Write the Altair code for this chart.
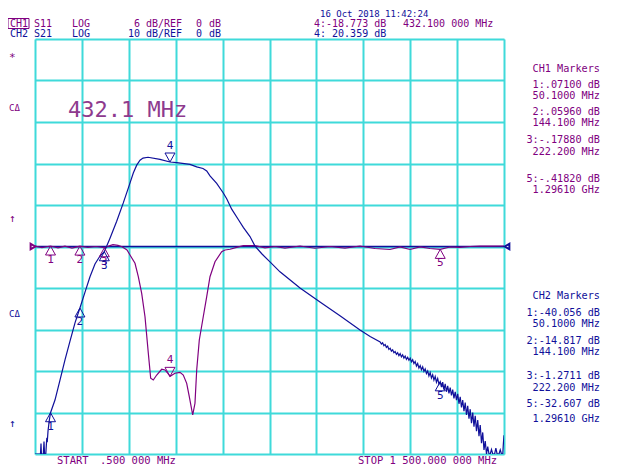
import altair as alt
import pandas as pd

# ---------------- data ----------------
# CH2 : S21 (10 dB/div, ref 0 dB at centre)
freq_s21 = [0.5, 10, 18, 19.7, 21, 27, 29.3, 31, 35, 37.9, 40, 42.1, 46, 50.1, 64.4, 80.4,
            96.4, 112.4, 128.4, 144.1, 160.4, 176.3, 192.3, 208.3, 222.2, 240.3, 261.7, 282.8,
            302.0, 314.8, 325.7, 336.3, 345.8, 361.8, 400.2, 432.1, 453.5, 496.1, 517.5, 537.6,
            549.5, 560.0, 581.4, 602.5, 613.4, 629.4, 650.5, 666.5, 687.9, 703.9, 726.3, 751.8,
            783.8, 847.8, 911.7, 975.6, 1039.6, 1072,
            1104, 1108, 1112, 1116, 1120, 1124, 1128, 1132, 1136, 1140, 1144, 1148, 1152, 1156,
            1160, 1164, 1168, 1172, 1176, 1180, 1184, 1188, 1192, 1196, 1200, 1204, 1208, 1212,
            1216, 1220, 1224, 1228, 1232, 1236, 1240, 1244, 1248, 1252, 1256, 1260, 1264, 1268,
            1272, 1276, 1280, 1284, 1288, 1292, 1296.1, 1300, 1304, 1308, 1312, 1316, 1320, 1324,
            1328, 1332, 1336, 1340, 1344, 1348, 1352, 1356, 1360, 1364, 1368, 1372, 1376, 1380,
            1384, 1388, 1392, 1396, 1400, 1404, 1408, 1412, 1416, 1420, 1424, 1428, 1432, 1436,
            1440, 1444, 1448, 1452, 1456, 1460, 1464, 1470, 1474, 1478, 1484, 1488, 1492, 1496,
            1498, 1500]
db_s21 = [-50, -50, -50, -47.5, -50, -50, -47, -50, -50, -46.5, -46.8, -44.5, -42.0, -40.06, -37.0, -32.2,
          -27.3, -22.8, -18.4, -14.82, -11.0, -7.3, -4.2, -2.3, -1.27, 2.0, 6.1, 10.5,
          14.8, 17.7, 19.6, 20.8, 21.3, 21.5, 21.0, 20.36, 20.2, 19.8, 19.2, 18.8,
          18.2, 17.0, 15.2, 12.9, 11.5, 9.0, 6.5, 4.6, 2.4, 0.1, -1.8, -3.7,
          -6.1, -10.0, -13.4, -16.7, -20.1, -21.7,
          -23.0, -23.5, -23.2, -23.9, -23.6, -24.3, -24.0, -24.8, -24.5, -25.2, -24.9, -25.6, -25.3, -26.0,
          -25.6, -26.3, -25.8, -26.6, -26.1, -26.9, -26.4, -27.2, -26.7, -27.4, -26.9, -27.8, -27.3, -28.2,
          -27.7, -28.8, -28.2, -29.3, -28.7, -29.7, -29.0, -30.1, -29.5, -30.6, -30.0, -31.2, -30.4, -31.7,
          -30.9, -32.2, -31.3, -32.7, -31.8, -33.2, -32.6, -33.9, -32.7, -34.5, -33.1, -35.0, -33.6, -35.4,
          -34.0, -35.9, -34.5, -36.6, -35.0, -37.0, -35.5, -37.9, -36.2, -38.8, -37.0, -39.7, -37.6, -40.6,
          -38.4, -41.5, -39.2, -42.6, -40.0, -43.4, -40.8, -44.5, -41.8, -45.7, -43.0, -47.4, -44.8, -49.0,
          -46.9, -50, -48.2, -50, -50, -48.9, -50, -50, -48.6, -50, -50, -49.0, -50, -50,
          -47.5, -45.5]

# CH1 : S11 (6 dB/div, ref 0 dB at centre)
freq_s11 = [0.5, 22.9, 50.1, 74.0, 96.4, 118.8, 144.1, 169.9, 195.5, 222.2, 240.3, 249.9, 265.9,
            278.7, 294.7, 304.2, 320.2, 330.8, 341.6, 352.2, 362.8, 370.4, 378.7, 389.6, 405.6,
            416.1, 426.7, 432.1, 448.1, 464.1, 474.6, 485.5, 493.8, 504.7, 512.0, 517.5, 525.8,
            536.7, 549.5, 560.0, 576.0, 597.4, 608.0, 624.0, 645.4, 666.5, 703.9, 735.9, 767.8,
            799.8, 847.8, 895.7, 943.6, 991.6, 1039.6, 1087.5, 1135.5, 1167.5, 1199.5, 1231.4,
            1263.4, 1296.1, 1327.3, 1359.3, 1391.3, 1423.3, 1455.3, 1500]
db_s11 = [0.07, -0.15, 0.071, -0.19, 0.04, -0.22, 0.0596, -0.14, 0.0, -0.1788, 0.12, 0.26, 0.17,
          -0.03, -0.51, -1.23, -2.43, -4.37, -6.77, -10.15, -15.44, -19.05, -19.30, -18.58, -17.75,
          -17.85, -18.43, -18.773, -18.33, -18.19, -18.58, -19.78, -21.71, -24.36, -22.67, -17.85, -13.52,
          -10.63, -7.26, -4.37, -2.20, -0.75, -0.51, -0.40, -0.12, 0.12, 0.14, -0.19, 0.0,
          -0.22, 0.07, -0.25, 0.0, -0.22, 0.07, -0.29, -0.43, -0.07, -0.43, -0.07,
          -0.29, -0.418, -0.07, -0.14, 0.0, 0.07, 0.04, 0.07]

marker_num = ["1", "2", "3", "4", "5"]
marker_freq = [50.1, 144.1, 222.2, 432.1, 1296.1]
ch1_marker_db = [0.071, 0.0596, -0.1788, -18.773, -0.4182]
ch2_marker_db = [-40.056, -14.817, -1.2711, 20.359, -32.607]

x_grid = [0.5, 150.45, 300.4, 450.35, 600.3, 750.25, 900.2, 1050.15, 1200.1, 1350.05, 1500.0]
ch2_grid = [-50, -40, -30, -20, -10, 0, 10, 20, 30, 40, 50]

ch1_readout = ["CH1 Markers", "1:.07100 dB", "50.1000 MHz", "2:.05960 dB", "144.100 MHz",
               "3:-.17880 dB", "222.200 MHz", "5:-.41820 dB", "1.29610 GHz"]
ch2_readout = ["CH2 Markers", "1:-40.056 dB", "50.1000 MHz", "2:-14.817 dB", "144.100 MHz",
               "3:-1.2711 dB", "222.200 MHz", "5:-32.607 dB", "1.29610 GHz"]

# ---------------- styling ----------------
CYAN = "#3fdada"
PURPLE = "#800080"
LIGHT_PURPLE = "#8e3a8e"
BLUE = "#10109a"
MONO = "DejaVu Sans Mono"
OX, OY = 35, 39  # page position of the plot area's top-left corner

s21 = pd.DataFrame({"f": freq_s21, "db": db_s21})
s11 = pd.DataFrame({"f": freq_s11, "db": db_s11})
mk = pd.DataFrame({"n": marker_num, "f": marker_freq, "ch1": ch1_marker_db, "ch2": ch2_marker_db})

X = alt.X("f:Q", scale=alt.Scale(domain=[0.5, 1500], nice=False, zero=False),
          axis=alt.Axis(values=x_grid, grid=True, labels=False, ticks=False, domain=False,
                        title=None, gridColor=CYAN, gridWidth=2, gridOpacity=1))
Y2_scale = alt.Scale(domain=[-50, 50], nice=False, zero=False)
Y1_scale = alt.Scale(domain=[-30, 30], nice=False, zero=False)

TRI_UP = "M0,0L-2,3.6L2,3.6Z"
TRI_DN = "M0,0L-2,-3.6L2,-3.6Z"


def label(text, px, py, color, size=10, align="left", weight="normal"):
    return alt.Chart(pd.DataFrame({"t": [text]})).mark_text(
        align=align, baseline="middle", font=MONO, fontSize=size, color=color, fontWeight=weight
    ).encode(x=alt.value(px - OX), y=alt.value(py - OY), text="t:N")


layers = []

# grid (from CH2 axes)
layers.append(
    alt.Chart(pd.DataFrame({"f": [0.5], "a": [0]})).mark_rule(color=BLUE, strokeWidth=1.3).encode(
        x=X,
        y=alt.Y("a:Q", scale=Y2_scale,
                axis=alt.Axis(values=ch2_grid, grid=True, labels=False, ticks=False, domain=False,
                              title=None, gridColor=CYAN, gridWidth=2, gridOpacity=1)),
    )
)
# blue reference line across the screen
layers.append(alt.Chart(pd.DataFrame({"a": [0]})).mark_rule(color=BLUE, strokeWidth=1.3).encode(
    y=alt.Y("a:Q", scale=Y2_scale, axis=None)))

# S11 trace (purple)
layers.append(alt.Chart(s11).mark_line(color=PURPLE, strokeWidth=1.2, clip=True).encode(
    x=X, y=alt.Y("db:Q", scale=Y1_scale, axis=None)))
# S21 trace (blue)
layers.append(alt.Chart(s21).mark_line(color=BLUE, strokeWidth=1.2, clip=True).encode(
    x=X, y=alt.Y("db:Q", scale=Y2_scale, axis=None)))

# markers
for field, scale, color in [("ch1", Y1_scale, PURPLE), ("ch2", Y2_scale, BLUE)]:
    base = alt.Chart(mk)
    up = base.transform_filter("datum.n != '4'")
    dn = base.transform_filter("datum.n == '4'")
    enc = dict(x=X, y=alt.Y(f"{field}:Q", scale=scale, axis=None))
    layers.append(up.mark_point(shape=TRI_UP, filled=False, size=25, color=color,
                                strokeWidth=1, opacity=1).encode(**enc))
    layers.append(up.mark_text(dy=14, font=MONO, fontSize=11, color=color).encode(text="n:N", **enc))
    layers.append(dn.mark_point(shape=TRI_DN, filled=False, size=25, color=color,
                                strokeWidth=1, opacity=1).encode(**enc))
    layers.append(dn.mark_text(dy=-16, font=MONO, fontSize=11, color=color).encode(text="n:N", **enc))

# reference-position arrows at both edges
layers.append(alt.Chart(pd.DataFrame({"f": [0.5], "v": [0]})).mark_point(
    shape="triangle-right", filled=False, size=30, color=PURPLE, xOffset=-2, opacity=1).encode(
    x=X, y=alt.Y("v:Q", scale=Y2_scale, axis=None)))
layers.append(alt.Chart(pd.DataFrame({"f": [1500], "v": [0]})).mark_point(
    shape="triangle-left", filled=False, size=30, color=BLUE, xOffset=3, opacity=1).encode(
    x=X, y=alt.Y("v:Q", scale=Y2_scale, axis=None)))

# header
ROW1, ROW2 = 23.5, 33.5
layers.append(alt.Chart(pd.DataFrame({"a": [0]})).mark_rect(
    fillOpacity=0, stroke=PURPLE, strokeWidth=1).encode(
    x=alt.value(8 - OX), x2=alt.value(29 - OX), y=alt.value(ROW1 - 5 - OY), y2=alt.value(ROW1 + 5 - OY)))
layers += [
    label("CH1", 10, ROW1, PURPLE),
    label("S11", 34, ROW1, PURPLE),
    label("LOG", 72, ROW1, PURPLE),
    label("6", 140, ROW1, PURPLE, align="right"),
    label("dB/REF", 146, ROW1, PURPLE),
    label("0", 196, ROW1, PURPLE),
    label("dB", 209, ROW1, PURPLE),
    label("CH2", 10, ROW2, BLUE),
    label("S21", 34, ROW2, BLUE),
    label("LOG", 72, ROW2, BLUE),
    label("10", 140, ROW2, BLUE, align="right"),
    label("dB/REF", 146, ROW2, BLUE),
    label("0", 196, ROW2, BLUE),
    label("dB", 209, ROW2, BLUE),
    label("16 Oct 2018  11:42:24", 320, 13.5, BLUE, 9),
    label("4:-18.773 dB", 314, ROW1, PURPLE),
    label("432.100 000 MHz", 403, ROW1, PURPLE),
    label("4: 20.359 dB", 314, ROW2, BLUE),
    label("432.1 MHz", 68, 110, LIGHT_PURPLE, 22, weight="lighter"),
    label("*", 9, 58, PURPLE, 11),
    label("C\u0394", 9, 108, PURPLE, 9),
    label("\u2191", 9, 219, PURPLE, 11),
    label("C\u0394", 9, 314, BLUE, 9),
    label("\u2191", 9, 424, BLUE, 11),
    label("START", 57, 461, PURPLE, 10.5),
    label(".500 000 MHz", 100, 461, PURPLE, 10.5),
    label("STOP 1 500.000 000 MHz", 358, 461, PURPLE, 10.5),
]

ch1_y = [69, 85, 96, 112, 123, 140, 151.5, 179, 190]
ch2_y = [296, 313, 324, 341, 352, 376, 387.5, 404, 419]
for t, yy in zip(ch1_readout, ch1_y):
    layers.append(label(t, 600, yy, PURPLE, 10.2, "right"))
for t, yy in zip(ch2_readout, ch2_y):
    layers.append(label(t, 600, yy, BLUE, 10.2, "right"))

chart = alt.layer(*layers).resolve_scale(y="independent").properties(
    width=469, height=415,
    padding={"left": 27, "top": 31, "right": 128, "bottom": 14},
    autosize=alt.AutoSizeParams(type="none"),
).configure_view(stroke=CYAN, strokeWidth=2).configure(background="white")

chart.save("out.html", embed_options={"renderer": "svg", "actions": False})
